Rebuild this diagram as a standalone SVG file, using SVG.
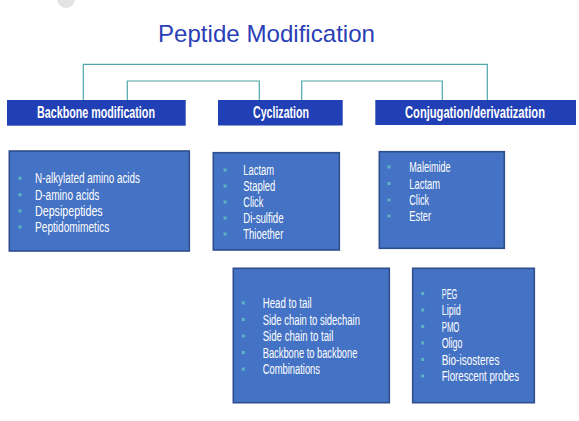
<svg xmlns="http://www.w3.org/2000/svg" width="579" height="421" viewBox="0 0 579 421">
<style>
.title{font-family:"Liberation Sans",Arial,sans-serif;font-size:24px;fill:#2b3fb6}
.hdr{fill:#2140b6}
.htxt{font-family:"Liberation Sans",Arial,sans-serif;font-size:16px;font-weight:bold;fill:#ffffff;text-anchor:middle}
.box{fill:#4472c4;stroke:#2f4e8c;stroke-width:1.6}
.itxt{font-family:"Liberation Sans",Arial,sans-serif;font-size:14px;fill:#ffffff}
.bul{fill:#5cb4c4}
.conn{fill:none;stroke:#4ea6aa;stroke-width:1.2}
</style>
<rect width="579" height="421" fill="#ffffff"/>
<circle cx="66" cy="-1" r="9" fill="#e3e3e3"/>
<text class="title" x="158" y="42" textLength="217" lengthAdjust="spacingAndGlyphs">Peptide Modification</text>
<g id="connectors">
<polyline class="conn" points="83.3,100 83.3,64.3 487.3,64.3 487.3,100"/>
<polyline class="conn" points="127.3,100 127.3,81 259.3,81 259.3,100"/>
<polyline class="conn" points="301.7,100 301.7,81 442.3,81 442.3,100"/>
</g>
<g id="hdr-backbone">
<rect class="hdr" x="7" y="100" width="178.7" height="25.7"/>
<text class="htxt" transform="translate(96,118) scale(0.67,1)">Backbone modification</text>
</g>
<g id="hdr-cyclization">
<rect class="hdr" x="218" y="100" width="124.7" height="25.5"/>
<text class="htxt" transform="translate(281,118) scale(0.663,1)">Cyclization</text>
</g>
<g id="hdr-conjugation">
<rect class="hdr" x="375.3" y="100" width="200.7" height="25"/>
<text class="htxt" transform="translate(475,118) scale(0.697,1)">Conjugation/derivatization</text>
</g>
<g id="box-backbone">
<rect class="box" x="9.3" y="151" width="180" height="100"/>
<rect class="bul" x="18.5" y="176.8" width="3" height="3"/>
<rect class="bul" x="18.5" y="193.2" width="3" height="3"/>
<rect class="bul" x="18.5" y="209.5" width="3" height="3"/>
<rect class="bul" x="18.5" y="225.5" width="3" height="3"/>
<text class="itxt" x="35" y="183.3" textLength="105" lengthAdjust="spacingAndGlyphs">N-alkylated amino acids</text>
<text class="itxt" x="35" y="199.7" textLength="64.3" lengthAdjust="spacingAndGlyphs">D-amino acids</text>
<text class="itxt" x="35" y="216" textLength="67.7" lengthAdjust="spacingAndGlyphs">Depsipeptides</text>
<text class="itxt" x="35" y="232" textLength="74.3" lengthAdjust="spacingAndGlyphs">Peptidomimetics</text>
</g>
<g id="box-cyclization">
<rect class="box" x="213.3" y="152.7" width="126" height="97.3"/>
<rect class="bul" x="223.5" y="168.5" width="3" height="3"/>
<rect class="bul" x="223.5" y="184.5" width="3" height="3"/>
<rect class="bul" x="223.5" y="200.5" width="3" height="3"/>
<rect class="bul" x="223.5" y="216.5" width="3" height="3"/>
<rect class="bul" x="223.5" y="232.5" width="3" height="3"/>
<text class="itxt" x="243.3" y="175" textLength="30.7" lengthAdjust="spacingAndGlyphs">Lactam</text>
<text class="itxt" x="243.3" y="191" textLength="32" lengthAdjust="spacingAndGlyphs">Stapled</text>
<text class="itxt" x="243.3" y="207" textLength="20" lengthAdjust="spacingAndGlyphs">Click</text>
<text class="itxt" x="243.3" y="223" textLength="40.3" lengthAdjust="spacingAndGlyphs">Di-sulfide</text>
<text class="itxt" x="243.3" y="239" textLength="40" lengthAdjust="spacingAndGlyphs">Thioether</text>
</g>
<g id="box-conjugation">
<rect class="box" x="379.3" y="151.7" width="125" height="96.6"/>
<rect class="bul" x="387.5" y="165.5" width="3" height="3"/>
<rect class="bul" x="387.5" y="182" width="3" height="3"/>
<rect class="bul" x="387.5" y="198.5" width="3" height="3"/>
<rect class="bul" x="387.5" y="214.5" width="3" height="3"/>
<text class="itxt" x="409.3" y="172" textLength="41.3" lengthAdjust="spacingAndGlyphs">Maleimide</text>
<text class="itxt" x="409.3" y="188.5" textLength="30.7" lengthAdjust="spacingAndGlyphs">Lactam</text>
<text class="itxt" x="409.3" y="205" textLength="19.7" lengthAdjust="spacingAndGlyphs">Click</text>
<text class="itxt" x="409.3" y="221" textLength="21.7" lengthAdjust="spacingAndGlyphs">Ester</text>
</g>
<g id="box-cyclization-types">
<rect class="box" x="233.3" y="268.3" width="156" height="134.4"/>
<rect class="bul" x="241.8" y="301.5" width="3" height="3"/>
<rect class="bul" x="241.8" y="318" width="3" height="3"/>
<rect class="bul" x="241.8" y="334.5" width="3" height="3"/>
<rect class="bul" x="241.8" y="351" width="3" height="3"/>
<rect class="bul" x="241.8" y="367.5" width="3" height="3"/>
<text class="itxt" x="262.7" y="308" textLength="49" lengthAdjust="spacingAndGlyphs">Head to tail</text>
<text class="itxt" x="262.7" y="324.5" textLength="97.3" lengthAdjust="spacingAndGlyphs">Side chain to sidechain</text>
<text class="itxt" x="262.7" y="341" textLength="70.7" lengthAdjust="spacingAndGlyphs">Side chain to tail</text>
<text class="itxt" x="262.7" y="357.5" textLength="94.7" lengthAdjust="spacingAndGlyphs">Backbone to backbone</text>
<text class="itxt" x="262.7" y="374" textLength="57.3" lengthAdjust="spacingAndGlyphs">Combinations</text>
</g>
<g id="box-conjugates">
<rect class="box" x="412.7" y="268.3" width="121.6" height="134.4"/>
<rect class="bul" x="421.2" y="292" width="3" height="3"/>
<rect class="bul" x="421.2" y="308.5" width="3" height="3"/>
<rect class="bul" x="421.2" y="325" width="3" height="3"/>
<rect class="bul" x="421.2" y="341.5" width="3" height="3"/>
<rect class="bul" x="421.2" y="358" width="3" height="3"/>
<rect class="bul" x="421.2" y="374.5" width="3" height="3"/>
<text class="itxt" x="441.7" y="298.5" textLength="15.7" lengthAdjust="spacingAndGlyphs">PEG</text>
<text class="itxt" x="441.7" y="315" textLength="19" lengthAdjust="spacingAndGlyphs">Lipid</text>
<text class="itxt" x="441.7" y="331.5" textLength="17.7" lengthAdjust="spacingAndGlyphs">PMO</text>
<text class="itxt" x="441.7" y="348" textLength="20.7" lengthAdjust="spacingAndGlyphs">Oligo</text>
<text class="itxt" x="441.7" y="364.5" textLength="57.7" lengthAdjust="spacingAndGlyphs">Bio-isosteres</text>
<text class="itxt" x="441.7" y="381" textLength="77.3" lengthAdjust="spacingAndGlyphs">Florescent probes</text>
</g>
</svg>
